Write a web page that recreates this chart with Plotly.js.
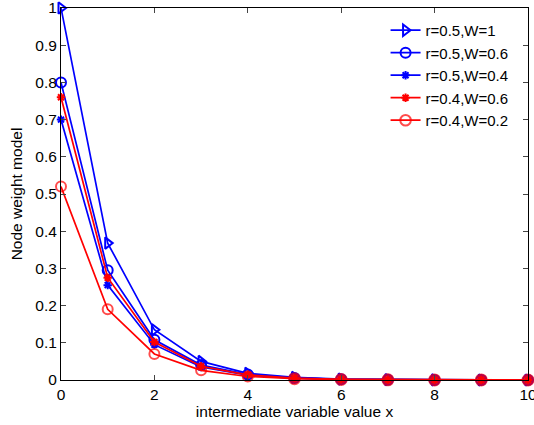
<!DOCTYPE html>
<html>
<head>
<meta charset="utf-8">
<script src="https://cdn.plot.ly/plotly-3.0.1.min.js"></script>
<style>html,body{margin:0;padding:0;background:#fff;}#chart{width:534px;height:425px;}</style>
</head>
<body>
<div id="chart"></div>
<script>
const xValues = [0, 1, 2, 3, 4, 5, 6, 7, 8, 9, 10];
const seriesNames = ["r=0.5,W=1", "r=0.5,W=0.6", "r=0.5,W=0.4", "r=0.4,W=0.6", "r=0.4,W=0.2"];
const s1 = [1.0, 0.368, 0.135, 0.050, 0.018, 0.007, 0.0025, 0.0009, 0.0003, 0.0001, 0.00005];
const s2 = [0.80, 0.295, 0.108, 0.040, 0.015, 0.0055, 0.002, 0.0007, 0.0003, 0.0001, 0.00004];
const s3 = [0.70, 0.255, 0.095, 0.035, 0.013, 0.0048, 0.0018, 0.0006, 0.0002, 0.0001, 0.00003];
const s4 = [0.76, 0.275, 0.102, 0.037, 0.014, 0.005, 0.0019, 0.0007, 0.0002, 0.0001, 0.00003];
const s5 = [0.52, 0.19, 0.070, 0.026, 0.0095, 0.0035, 0.0013, 0.0005, 0.0002, 0.0001, 0.00002];
const xTicks = [0, 2, 4, 6, 8, 10];
const yTicks = [0, 0.1, 0.2, 0.3, 0.4, 0.5, 0.6, 0.7, 0.8, 0.9, 1];
const yTickText = ["0", "0.1", "0.2", "0.3", "0.4", "0.5", "0.6", "0.7", "0.8", "0.9", "1"];

const colors = ["#0000ff", "#0000ff", "#0000ff", "#ff0000", "#ff0000"];
const symbols = ["triangle-right-open", "circle-open", "asterisk-open", "asterisk-open", "circle-open"];
const sizes = [10, 10, 7, 7, 10];
const allSeries = [s1, s2, s3, s4, s5];

const traces = allSeries.map((s, i) => ({
  x: xValues, y: s, name: seriesNames[i], type: "scatter", mode: "lines+markers",
  line: {color: colors[i], width: 1.7},
  marker: {symbol: symbols[i], size: sizes[i], color: colors[i], line: {color: colors[i], width: 2}},
  cliponaxis: false
}));
// the near-zero red circles read as solid dots in the reference
traces[4].marker.symbol = xValues.map(x => x >= 5 ? "circle" : "circle-open");
traces[4].marker.size = xValues.map(x => x >= 5 ? 11 : 10);

const fontFam = "Liberation Sans, Arial, sans-serif";
const fs = 15.5;
const layout = {
  width: 534, height: 425,
  margin: {l: 61, r: 6, t: 8, b: 45},
  paper_bgcolor: "#fff", plot_bgcolor: "#fff",
  font: {family: fontFam, size: fs, color: "#000"},
  showlegend: true,
  legend: {x: 0.695, y: 0.984, xanchor: "left", yanchor: "top", bgcolor: "rgba(0,0,0,0)", borderwidth: 0,
    font: {family: fontFam, size: 15, color: "#000"}},
  xaxis: {range: [0, 10], tickvals: xTicks, ticktext: xTicks.map(String), ticks: "inside", ticklen: 5,
    showline: true, linecolor: "#000", linewidth: 1, mirror: "allticks", showgrid: false, zeroline: false,
    ticklabeloverflow: "allow", tickfont: {family: fontFam, size: fs},
    title: {text: "intermediate variable value x", font: {family: fontFam, size: fs}, standoff: 2}},
  yaxis: {range: [0, 1], tickvals: yTicks, ticktext: yTickText, ticks: "inside", ticklen: 5,
    showline: true, linecolor: "#000", linewidth: 1, mirror: "allticks", showgrid: false, zeroline: false,
    ticklabeloverflow: "allow", tickfont: {family: fontFam, size: fs},
    title: {text: "Node weight model", font: {family: fontFam, size: fs}, standoff: 8}}
};
Plotly.newPlot("chart", traces, layout, {displayModeBar: false, staticPlot: true});
</script>
</body>
</html>
